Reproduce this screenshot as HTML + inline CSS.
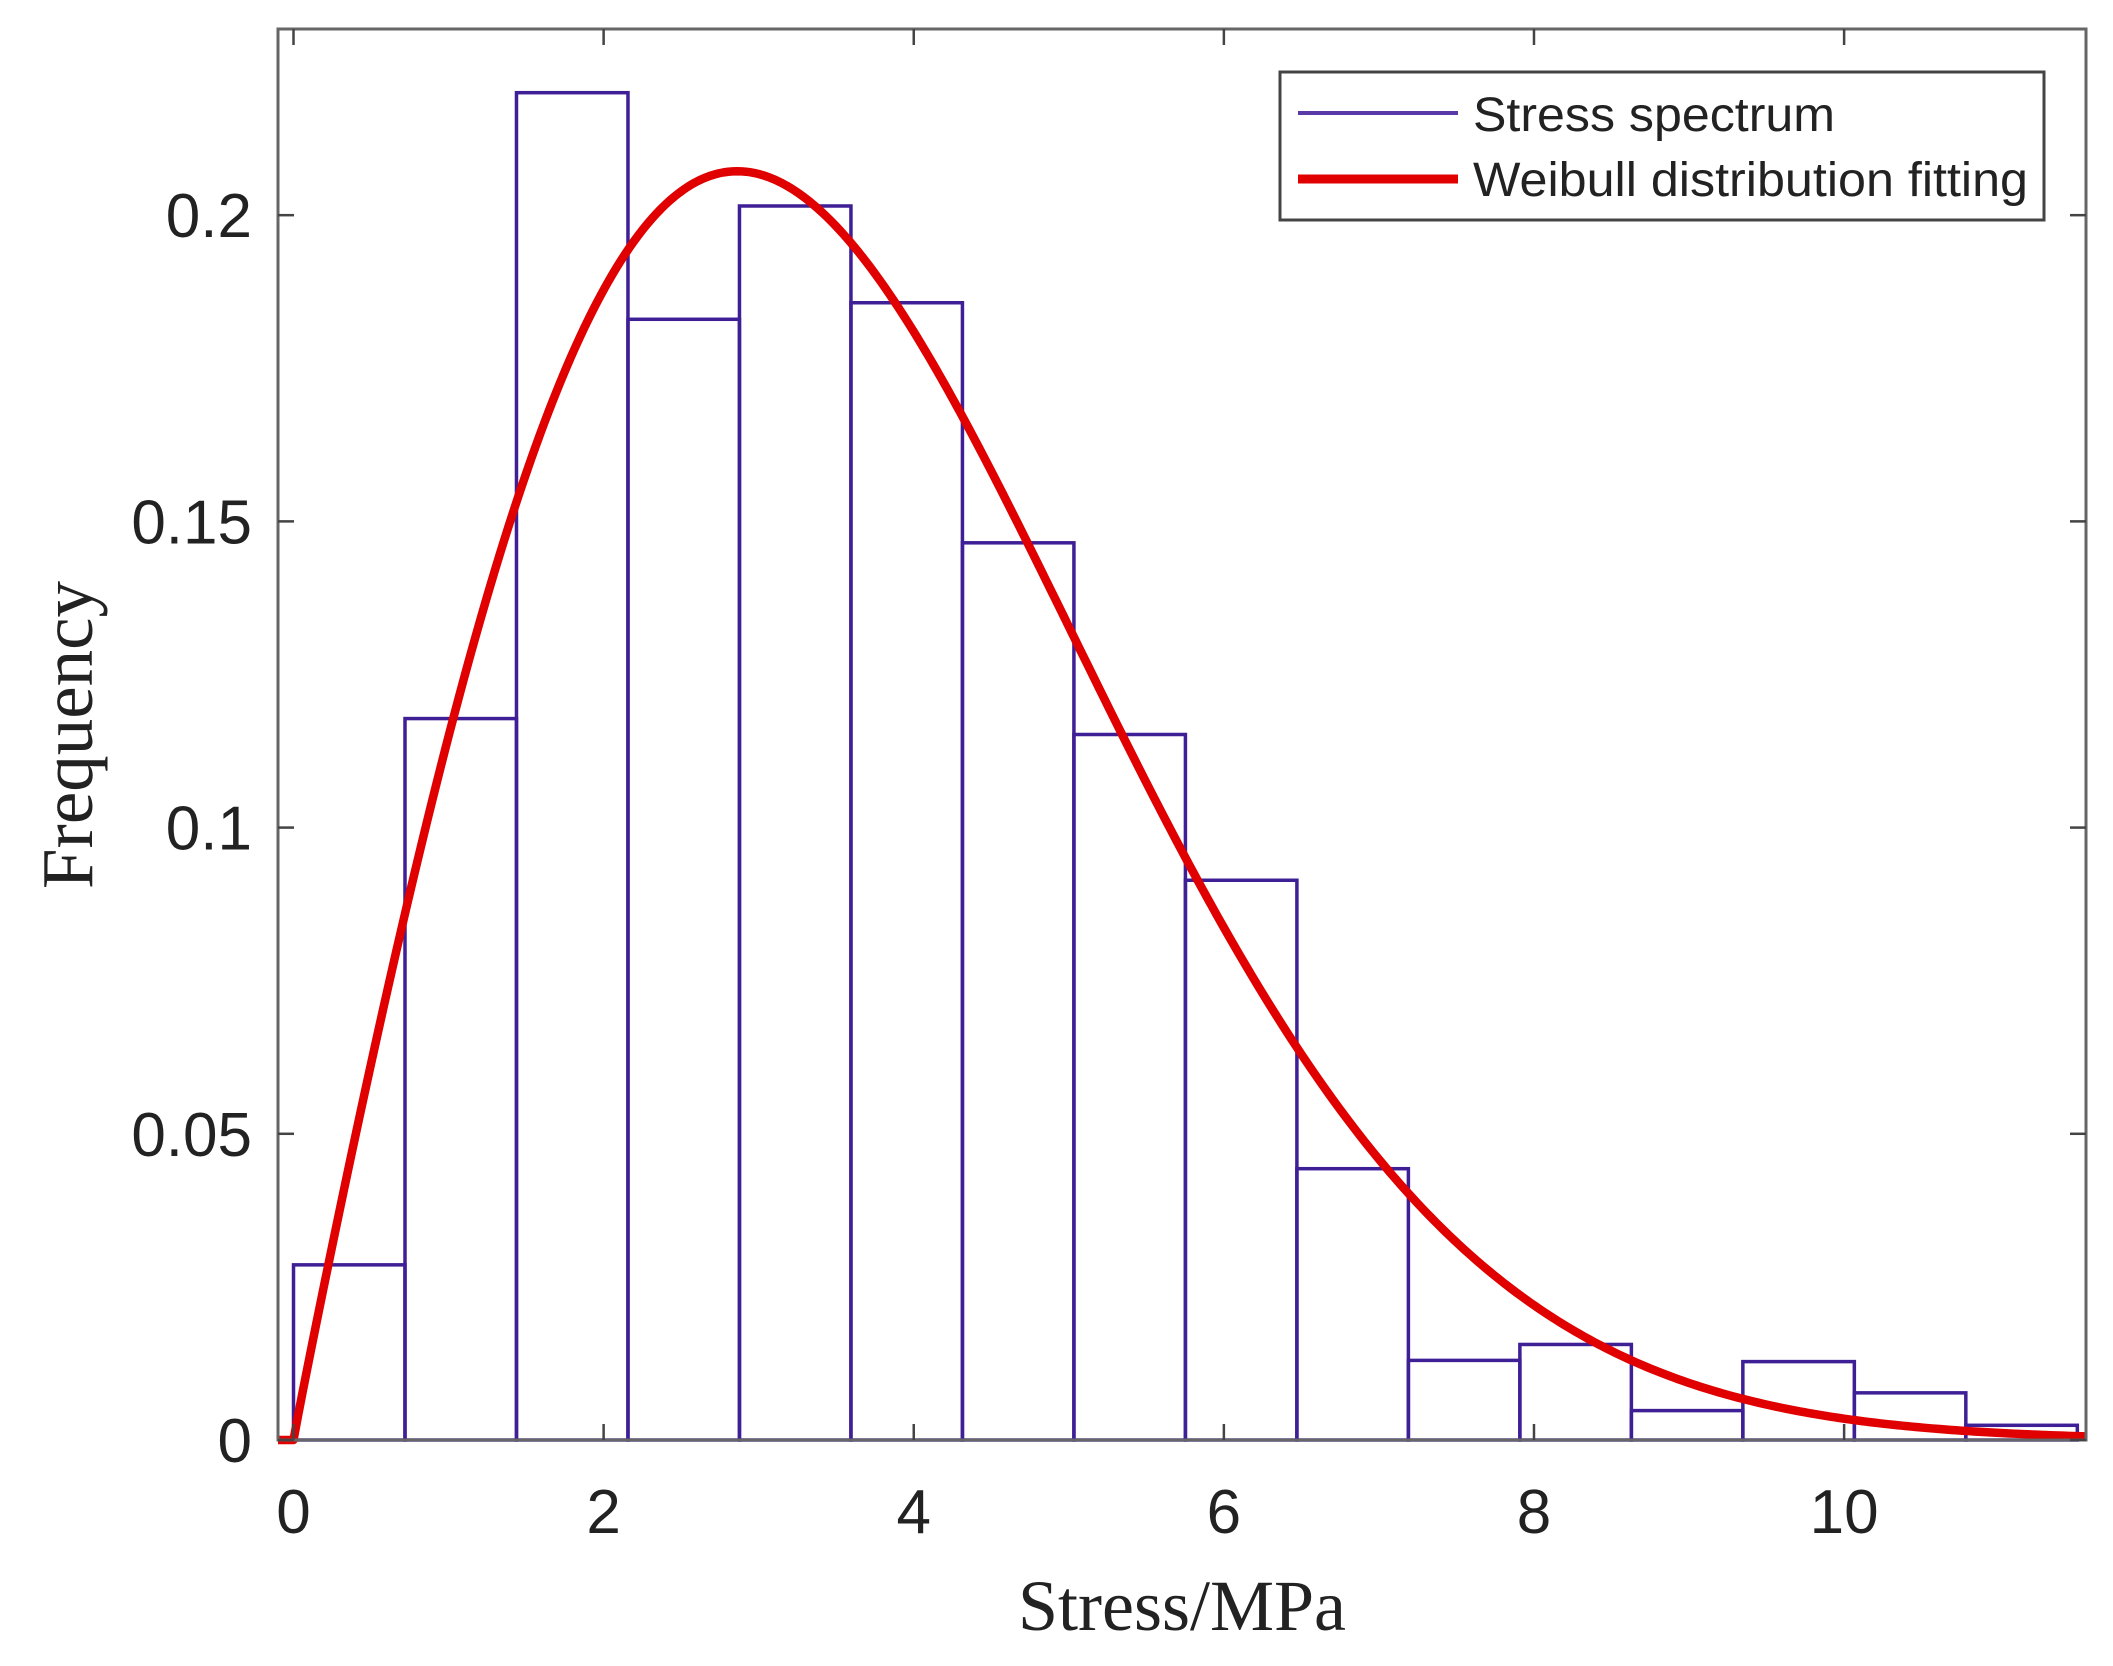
<!DOCTYPE html>
<html><head><meta charset="utf-8"><style>
html,body{margin:0;padding:0;background:#fff;}
svg{display:block;}
</style></head><body>
<svg id="chart" width="2113" height="1666" viewBox="0 0 2113 1666" xmlns="http://www.w3.org/2000/svg">
<rect x="0" y="0" width="2113" height="1666" fill="#fff"/>
<g id="bars"></g>
<g id="curve"></g>
<g id="axes"></g>
<text x="1182" y="1630" font-family="Liberation Serif, serif" font-size="72" text-anchor="middle" fill="#222">Stress/MPa</text>
<text transform="translate(92,735) rotate(-90)" font-family="Liberation Serif, serif" font-size="73" text-anchor="middle" fill="#222">Frequency</text>
<g>
<rect x="1280" y="72" width="764" height="148" fill="#fff" stroke="#444" stroke-width="3"/>
<line x1="1298" y1="113" x2="1458" y2="113" stroke="#5a3aa8" stroke-width="4"/>
<text x="1473" y="131" font-family="Liberation Sans, sans-serif" font-size="48" textLength="362" lengthAdjust="spacingAndGlyphs" fill="#222">Stress spectrum</text>
<line x1="1298" y1="179" x2="1458" y2="179" stroke="#e00000" stroke-width="9"/>
<text x="1473" y="196" font-family="Liberation Sans, sans-serif" font-size="48" textLength="555" lengthAdjust="spacingAndGlyphs" fill="#222">Weibull distribution fitting</text>
</g>
</svg>
<script>
const binWidth = 0.719;
const binFrequencies = [0.0286,0.1178,0.220,0.183,0.2015,0.1857,0.1465,0.1152,0.0914,0.0443,0.013,0.0156,0.0048,0.0128,0.0077,0.0024];
const xTicks = [0,2,4,6,8,10];
const xTickLabels = ["0","2","4","6","8","10"];
const yTicks = [0,0.05,0.1,0.15,0.2];
const yTickLabels = ["0","0.05","0.1","0.15","0.2"];
const weibullShape = [1.97];
const weibullScale = [4.1];
const xDomain = [-0.1, 11.56];
const yDomain = [0, 0.2304];

const NS = "http://www.w3.org/2000/svg";
const L = 278, R = 2086, T = 29, B = 1440;
function sx(v){ return L + (v - xDomain[0]) / (xDomain[1] - xDomain[0]) * (R - L); }
function sy(v){ return B - (v - yDomain[0]) / (yDomain[1] - yDomain[0]) * (B - T); }
function mk(tag, attrs, parent){ const e = document.createElementNS(NS, tag); for (const k in attrs) e.setAttribute(k, attrs[k]); parent.appendChild(e); return e; }

const bars = document.getElementById('bars');
binFrequencies.forEach((f, i) => {
  const x0 = sx(i * binWidth), x1 = sx((i + 1) * binWidth);
  const r = mk('rect', {x: x0, y: sy(f), width: x1 - x0, height: sy(0) - sy(f), fill: 'none', stroke: '#3f1f96', 'stroke-width': 3.5}, bars);
  
  
});

const curveG = document.getElementById('curve');
const k = weibullShape[0], lam = weibullScale[0];
let d = 'M' + sx(xDomain[0]) + ',' + sy(0) + ' L' + sx(0) + ',' + sy(0);
for (let i = 1; i <= 400; i++) {
  const x = i / 400 * xDomain[1];
  const y = (k / lam) * Math.pow(x / lam, k - 1) * Math.exp(-Math.pow(x / lam, k));
  d += ' L' + sx(x).toFixed(2) + ',' + sy(y).toFixed(2);
}
const path = mk('path', {d: d, fill: 'none', stroke: '#e00000', 'stroke-width': 8.5, 'stroke-linejoin': 'round'}, curveG);



const axes = document.getElementById('axes');
const box = mk('rect', {x: L, y: T, width: R - L, height: B - T, fill: 'none', stroke: '#666', 'stroke-width': 3}, axes);


xTicks.forEach((v, i) => {
  const x = sx(v);
  const t1 = mk('line', {x1: x, y1: B, x2: x, y2: B - 16, stroke: '#444', 'stroke-width': 2.5}, axes);
  
  
  const t2 = mk('line', {x1: x, y1: T, x2: x, y2: T + 16, stroke: '#444', 'stroke-width': 2.5}, axes);
  
  
  const tx = mk('text', {x: x, y: 1533, 'font-family': 'Liberation Sans, sans-serif', 'font-size': 62, 'text-anchor': 'middle', fill: '#222'}, axes);
  tx.textContent = xTickLabels[i];
  
  
});
yTicks.forEach((v, i) => {
  const y = sy(v);
  const t1 = mk('line', {x1: L, y1: y, x2: L + 16, y2: y, stroke: '#444', 'stroke-width': 2.5}, axes);
  
  
  const t2 = mk('line', {x1: R, y1: y, x2: R - 16, y2: y, stroke: '#444', 'stroke-width': 2.5}, axes);
  
  
  const tx = mk('text', {x: 252, y: y + 22, 'font-family': 'Liberation Sans, sans-serif', 'font-size': 62, 'text-anchor': 'end', fill: '#222'}, axes);
  tx.textContent = yTickLabels[i];
  
  
});
</script>
</body></html>
